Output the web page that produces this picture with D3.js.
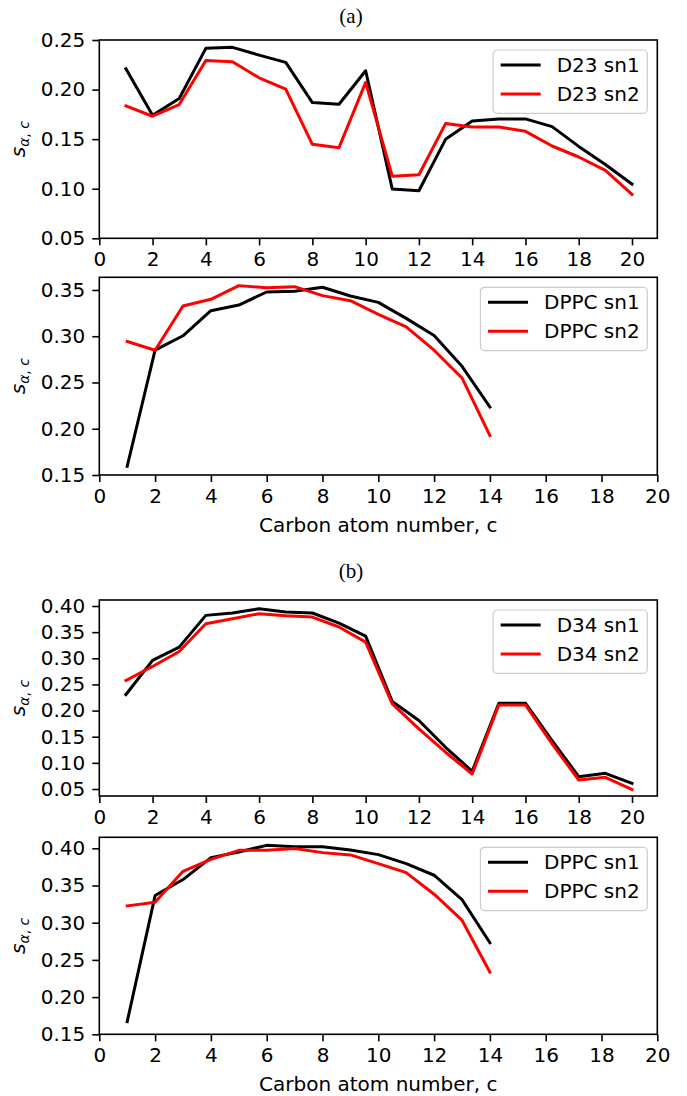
<!DOCTYPE html>
<html>
<head>
<meta charset="utf-8">
<script src="https://cdn.jsdelivr.net/npm/d3@7"></script>
<style>
  body { margin: 0; background: #fff; }
  svg { display: block; font-family: "DejaVu Sans", sans-serif; }
</style>
</head>
<body>
<main></main>
<script>
const width = 687;
const height = 1096;
const left = 99.3;
const plotW = 558;
const fontSize = 20;

// carbon numbers
const carbonLong = [1, 2, 3, 4, 5, 6, 7, 8, 9, 10, 11, 12, 13, 14, 15, 16, 17, 18, 19, 20];
const carbonDPPC = [1, 2, 3, 4, 5, 6, 7, 8, 9, 10, 11, 12, 13, 14];

// (a) D23
const d23sn1 = [0.221, 0.174, 0.191, 0.2416, 0.2426, 0.2348, 0.2274, 0.1869, 0.1852, 0.219,
                0.0996, 0.0979, 0.1498, 0.1684, 0.1704, 0.1704, 0.1626, 0.1427, 0.1245, 0.1046];
const d23sn2 = [0.1836, 0.1731, 0.1849, 0.2294, 0.2281, 0.2119, 0.2004, 0.1448, 0.1414, 0.2072,
                0.1127, 0.1141, 0.1657, 0.1623, 0.1623, 0.1579, 0.1431, 0.132, 0.1185, 0.0942];
const dppcASn1 = [0.1594, 0.2849, 0.3005, 0.3276, 0.3337, 0.3478, 0.3486, 0.3529, 0.3435, 0.3366,
                  0.3193, 0.3008, 0.2675, 0.2235];
const dppcASn2 = [0.2943, 0.2849, 0.3326, 0.3399, 0.3547, 0.3525, 0.3536, 0.3439, 0.3384, 0.3236,
                  0.3102, 0.2849, 0.2549, 0.1927];

// (b) D34
const d34sn1 = [0.2307, 0.2959, 0.3214, 0.3821, 0.3866, 0.3949, 0.3885, 0.3866, 0.3674, 0.3425,
                0.2173, 0.1809, 0.1298, 0.0839, 0.2141, 0.2141, 0.1426, 0.0736, 0.080, 0.0609];
const d34sn2 = [0.2576, 0.2844, 0.3131, 0.3661, 0.3757, 0.3853, 0.3815, 0.3789, 0.3598, 0.331,
                0.2129, 0.165, 0.1203, 0.0787, 0.2109, 0.2109, 0.1362, 0.0672, 0.0723, 0.049];
const dppcBSn1 = [0.167, 0.3365, 0.358, 0.3875, 0.3951, 0.404, 0.4022, 0.4022, 0.3978, 0.3915,
                  0.3794, 0.3638, 0.3311, 0.273];
const dppcBSn2 = [0.3226, 0.3275, 0.3691, 0.3852, 0.3973, 0.3973, 0.3996, 0.3942, 0.3911, 0.3794,
                  0.3674, 0.3383, 0.3034, 0.2336];

// ticks
const xTicks = [0, 2, 4, 6, 8, 10, 12, 14, 16, 18, 20];
const yTicksA1 = [0.05, 0.10, 0.15, 0.20, 0.25];
const yTicksA2 = [0.15, 0.20, 0.25, 0.30, 0.35];
const yTicksB1 = [0.05, 0.10, 0.15, 0.20, 0.25, 0.30, 0.35, 0.40];
const yTicksB2 = [0.15, 0.20, 0.25, 0.30, 0.35, 0.40];

const titles = [{text: '(a)', y: 23}, {text: '(b)', y: 578}];

const panels = [
  {top: 40,    h: 198.3, x: carbonLong, xDom: [0, 20.95], yDom: [0.05, 0.25],    yTicks: yTicksA1,
   series: [{name: 'D23 sn1', v: d23sn1, c: '#000000'}, {name: 'D23 sn2', v: d23sn2, c: '#ff0000'}], xlabel: false},
  {top: 277.3, h: 197.7, x: carbonDPPC, xDom: [0, 20], yDom: [0.15, 0.3637],  yTicks: yTicksA2,
   series: [{name: 'DPPC sn1', v: dppcASn1, c: '#000000'}, {name: 'DPPC sn2', v: dppcASn2, c: '#ff0000'}], xlabel: true},
  {top: 600,   h: 196,   x: carbonLong, xDom: [0, 20.95], yDom: [0.0366, 0.4115], yTicks: yTicksB1,
   series: [{name: 'D34 sn1', v: d34sn1, c: '#000000'}, {name: 'D34 sn2', v: d34sn2, c: '#ff0000'}], xlabel: false},
  {top: 837.3, h: 197,   x: carbonDPPC, xDom: [0, 20], yDom: [0.15, 0.4148],  yTicks: yTicksB2,
   series: [{name: 'DPPC sn1', v: dppcBSn1, c: '#000000'}, {name: 'DPPC sn2', v: dppcBSn2, c: '#ff0000'}], xlabel: true}
];

const svg = d3.select('main')
              .append('svg')
              .attr('width', width)
              .attr('height', height);

titles.forEach(t => {
  svg.append('text')
     .attr('x', 351)
     .attr('y', t.y)
     .attr('text-anchor', 'middle')
     .style('font-family', '"Liberation Serif", serif')
     .style('font-size', '21px')
     .text(t.text);
});

const drawPanel = (p) => {
  const g = svg.append('g').attr('transform', `translate(${left},${p.top})`);
  const xScale = d3.scaleLinear().domain(p.xDom).range([0, plotW]);
  const yScale = d3.scaleLinear().domain(p.yDom).range([p.h, 0]);

  // lines
  const line = d3.line().x((d, i) => xScale(p.x[i])).y(d => yScale(d));
  p.series.forEach(s => {
    g.append('path')
     .datum(s.v)
     .attr('d', line)
     .attr('fill', 'none')
     .attr('stroke', s.c)
     .attr('stroke-width', 3)
     .attr('stroke-linejoin', 'round')
     .attr('stroke-linecap', 'square');
  });

  // axes
  const xAxis = g.append('g')
     .attr('transform', `translate(0,${p.h})`)
     .call(d3.axisBottom(xScale).tickValues(xTicks).tickFormat(d3.format('d')).tickSize(7).tickPadding(7));
  const yAxis = g.append('g')
     .call(d3.axisLeft(yScale).tickValues(p.yTicks).tickFormat(d3.format('.2f')).tickSize(7).tickPadding(7));
  [xAxis, yAxis].forEach(a => {
    a.select('.domain').remove();
    a.selectAll('line').attr('stroke', '#000').attr('stroke-width', 1.6);
    a.selectAll('text').attr('fill', '#000').style('font-size', fontSize + 'px').style('font-family', '"DejaVu Sans"');
  });

  // frame
  g.append('rect')
   .attr('width', plotW)
   .attr('height', p.h)
   .attr('fill', 'none')
   .attr('stroke', '#000')
   .attr('stroke-width', 1.6);

  // y label
  const yl = g.append('text')
     .attr('transform', `translate(${25 - left},${p.h / 2}) rotate(-90)`)
     .attr('text-anchor', 'middle')
     .style('font-size', fontSize + 'px')
     .style('font-style', 'italic');
  yl.append('tspan').text('s');
  yl.append('tspan').attr('dy', 4).style('font-size', '14px').text('α');
  yl.append('tspan').style('font-size', '14px').style('font-style', 'normal').text(', ');
  yl.append('tspan').style('font-size', '14px').text('c');

  if (p.xlabel) {
    g.append('text')
     .attr('x', plotW / 2)
     .attr('y', p.h + 57)
     .attr('text-anchor', 'middle')
     .style('font-size', fontSize + 'px')
     .text('Carbon atom number, c');
  }

  // legend
  const lg = g.append('g');
  const box = lg.append('rect');
  const texts = p.series.map((s, i) => {
    const rowY = 15 + i * 29;
    lg.append('line')
      .attr('x1', 7.6).attr('x2', 47.6)
      .attr('y1', rowY).attr('y2', rowY)
      .attr('stroke', s.c)
      .attr('stroke-width', 3);
    return lg.append('text')
      .attr('x', 63.6)
      .attr('y', rowY)
      .attr('dy', '0.36em')
      .style('font-size', fontSize + 'px')
      .text(s.name);
  });
  const tw = d3.max(texts, t => t.node().getComputedTextLength());
  const bw = 63.6 + tw + 7.6;
  box.attr('width', bw)
     .attr('height', 63.3)
     .attr('rx', 4)
     .attr('fill', '#fff')
     .attr('fill-opacity', 0.8)
     .attr('stroke', '#cccccc')
     .attr('stroke-width', 1.2);
  lg.attr('transform', `translate(${plotW - 10 - bw},10)`);
};

panels.forEach(drawPanel);
</script>
</body>
</html>
